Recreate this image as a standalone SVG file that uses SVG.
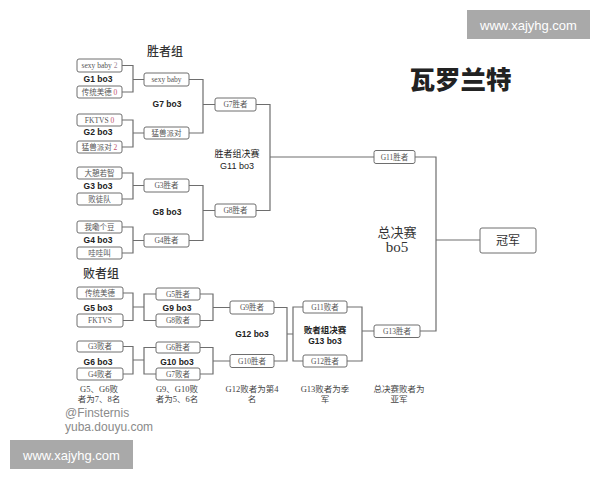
<svg xmlns="http://www.w3.org/2000/svg" width="600" height="480" viewBox="0 0 600 480">
<style>
.box{fill:#fff;stroke:#6e6e6e;stroke-width:1}
.bt{font-family:"Liberation Serif","Noto Sans CJK SC",serif;font-size:7.5px;fill:#555;text-anchor:middle}
.sc{fill:#c0506a}
.lb{font-family:"Liberation Sans","Noto Sans CJK SC",sans-serif;font-size:8.5px;font-weight:bold;fill:#222;text-anchor:middle}
.lr{font-family:"Liberation Sans","Noto Sans CJK SC",sans-serif;font-size:9px;fill:#222;text-anchor:middle}
.note{font-family:"Liberation Serif","Noto Sans CJK SC",serif;font-size:8.5px;fill:#444;text-anchor:middle}
.hd{font-family:"Liberation Serif","Noto Sans CJK SC",serif;font-size:12px;fill:#333;font-weight:500}
.wm{fill:#a9a9a9}
.wmt{font-family:"Liberation Sans",sans-serif;font-size:13px;fill:#fff;text-anchor:middle}
.cr{font-family:"Liberation Sans",sans-serif;font-size:12px;fill:#8a8a8a}
.con{fill:none;stroke:#6e6e6e;stroke-width:1.2}
</style>
<rect width="600" height="480" fill="#fff"/>

<g id="watermark-top"><rect class="wm" x="467" y="10" width="123" height="29"/><text class="wmt" x="528.5" y="29.5">www.xajyhg.com</text></g>
<g id="watermark-bottom"><rect class="wm" x="10" y="440" width="123" height="29"/><text class="wmt" x="71.5" y="459.5">www.xajyhg.com</text></g>
<g id="credit"><text class="cr" x="65" y="417">@Finsternis</text><text class="cr" x="65" y="431">yuba.douyu.com</text></g>

<text id="title" x="460.5" y="89" text-anchor="middle" font-family="Noto Sans CJK SC,sans-serif" font-size="25.5" font-weight="900" fill="#222">瓦罗兰特</text>
<text class="hd" x="165" y="56" text-anchor="middle">胜者组</text>
<text class="hd" x="83" y="278">败者组</text>

<g id="connectors" class="con">
<path d="M122 65.5H133V92H122M133 79.5H144"/>
<path d="M122 120H133V147H122M133 133H144"/>
<path d="M122 173H133V199H122M133 185.5H144"/>
<path d="M122 227H133V253H122M133 240.5H144"/>
<path d="M189 79.5H203V133H189M203 104.5H215"/>
<path d="M189 185.5H203V240.5H189M203 210.5H215"/>
<path d="M256 104.5H270V210.5H256M270 157H374"/>
<path d="M415 157H436V331H420M436 240H480"/>
<path d="M123 293H133V320.5H123M133 307H144M156 294H144V320.5H156"/>
<path d="M123 346.5H133V374H123M133 360H144M156 347.5H144V374H156"/>
<path d="M200 294H213V320.5H200M213 307.5H230"/>
<path d="M200 347.5H213V374H200M213 361H230"/>
<path d="M274 307.5H287V361H274M287 334H293M303 307H293V361H303"/>
<path d="M347 307H362V361H347M362 331H374"/>
</g>

<g id="w1a"><rect class="box" x="77" y="59" width="45" height="13" rx="2"/><text class="bt" x="99.5" y="68.3">sexy baby <tspan fill="#a08898">2</tspan></text></g>
<g id="w1b"><rect class="box" x="77" y="86" width="45" height="12" rx="2"/><text class="bt" x="99.5" y="94.8">传统美德 <tspan class="sc">0</tspan></text></g>
<g id="w2a"><rect class="box" x="77" y="114" width="45" height="12" rx="2"/><text class="bt" x="99.5" y="122.8">FKTVS <tspan class="sc">0</tspan></text></g>
<g id="w2b"><rect class="box" x="77" y="141" width="45" height="12" rx="2"/><text class="bt" x="99.5" y="149.8">猛兽派对 <tspan class="sc">2</tspan></text></g>
<g id="w3a"><rect class="box" x="77" y="167" width="45" height="12" rx="2"/><text class="bt" x="99.5" y="175.8">大憩若智</text></g>
<g id="w3b"><rect class="box" x="77" y="193" width="45" height="12" rx="2"/><text class="bt" x="99.5" y="201.8">败徒队</text></g>
<g id="w4a"><rect class="box" x="77" y="221" width="45" height="12" rx="2"/><text class="bt" x="99.5" y="229.8">我嘞个豆</text></g>
<g id="w4b"><rect class="box" x="77" y="247" width="45" height="12" rx="2"/><text class="bt" x="99.5" y="255.8">哇哇叫</text></g>

<text class="lb" x="98" y="82">G1 bo3</text>
<text class="lb" x="98" y="134.5">G2 bo3</text>
<text class="lb" x="98" y="189">G3 bo3</text>
<text class="lb" x="98" y="243">G4 bo3</text>

<g id="g7a"><rect class="box" x="144" y="73" width="45" height="13" rx="2"/><text class="bt" x="166.5" y="82.2">sexy baby</text></g>
<g id="g7b"><rect class="box" x="144" y="127" width="45" height="12" rx="2"/><text class="bt" x="166.5" y="135.8">猛兽派对</text></g>
<g id="g8a"><rect class="box" x="144" y="179" width="45" height="13" rx="2"/><text class="bt" x="166.5" y="188.2">G3胜者</text></g>
<g id="g8b"><rect class="box" x="144" y="234" width="45" height="13" rx="2"/><text class="bt" x="166.5" y="243.2">G4胜者</text></g>
<text class="lb" x="167" y="107">G7 bo3</text>
<text class="lb" x="167" y="215">G8 bo3</text>

<g id="g7w"><rect class="box" x="215" y="98" width="41" height="13" rx="2"/><text class="bt" x="235.5" y="107.2">G7胜者</text></g>
<g id="g8w"><rect class="box" x="215" y="204" width="41" height="13" rx="2"/><text class="bt" x="235.5" y="213.2">G8胜者</text></g>
<text class="lr" x="237" y="157">胜者组决赛</text>
<text class="lr" x="237" y="168.5">G11 bo3</text>

<g id="g11w"><rect class="box" x="374" y="150.5" width="41" height="13" rx="2"/><text class="bt" x="394.5" y="159.7">G11胜者</text></g>
<text x="397" y="236.5" text-anchor="middle" font-family="Liberation Serif,Noto Sans CJK SC,serif" font-size="13" fill="#333">总决赛</text>
<text x="397" y="252" text-anchor="middle" font-family="Liberation Serif,Noto Sans CJK SC,serif" font-size="15" fill="#333">bo5</text>
<g id="champion"><rect class="box" x="480" y="228" width="56" height="25" rx="2"/><text x="508" y="244.5" text-anchor="middle" font-family="Liberation Serif,Noto Sans CJK SC,serif" font-size="12" fill="#333">冠军</text></g>

<g id="l5a"><rect class="box" x="77" y="287" width="46" height="12" rx="2"/><text class="bt" x="100" y="295.8">传统美德</text></g>
<g id="l5b"><rect class="box" x="77" y="314" width="46" height="13" rx="2"/><text class="bt" x="100" y="323.2">FKTVS</text></g>
<g id="l6a"><rect class="box" x="77" y="341" width="46" height="11" rx="2"/><text class="bt" x="100" y="349.3">G3败者</text></g>
<g id="l6b"><rect class="box" x="77" y="368" width="46" height="12" rx="2"/><text class="bt" x="100" y="376.8">G4败者</text></g>
<text class="lb" x="98" y="311">G5 bo3</text>
<text class="lb" x="98" y="365">G6 bo3</text>

<g id="g9a"><rect class="box" x="156" y="288" width="44" height="12" rx="2"/><text class="bt" x="178" y="296.8">G5胜者</text></g>
<g id="g9b"><rect class="box" x="156" y="314" width="44" height="13" rx="2"/><text class="bt" x="178" y="323.2">G8败者</text></g>
<g id="g10a"><rect class="box" x="156" y="342" width="44" height="11" rx="2"/><text class="bt" x="178" y="350.3">G6胜者</text></g>
<g id="g10b"><rect class="box" x="156" y="368" width="44" height="12" rx="2"/><text class="bt" x="178" y="376.8">G7败者</text></g>
<text class="lb" x="177" y="310.5">G9 bo3</text>
<text class="lb" x="177" y="365">G10 bo3</text>

<g id="g9w"><rect class="box" x="230" y="301" width="44" height="13" rx="2"/><text class="bt" x="252" y="310.2">G9胜者</text></g>
<g id="g10w"><rect class="box" x="230" y="354.5" width="44" height="13" rx="2"/><text class="bt" x="252" y="363.7">G10胜者</text></g>
<text class="lb" x="252" y="337">G12 bo3</text>

<g id="g11l"><rect class="box" x="303" y="301" width="44" height="12" rx="2"/><text class="bt" x="325" y="309.8">G11败者</text></g>
<g id="g12w"><rect class="box" x="303" y="355" width="44" height="12" rx="2"/><text class="bt" x="325" y="363.8">G12胜者</text></g>
<text class="lb" x="325" y="333" font-size="9.5">败者组决赛</text>
<text class="lb" x="325" y="344" font-size="9.5">G13 bo3</text>

<g id="g13w"><rect class="box" x="374" y="325" width="46" height="12.5" rx="2"/><text class="bt" x="397" y="333.9">G13胜者</text></g>

<g id="notes">
<text class="note" x="99" y="392">G5、G6败</text><text class="note" x="99" y="402">者为7、8名</text>
<text class="note" x="177" y="392">G9、G10败</text><text class="note" x="177" y="402">者为5、6名</text>
<text class="note" x="252" y="392">G12败者为第4</text><text class="note" x="252" y="402">名</text>
<text class="note" x="325" y="392">G13败者为季</text><text class="note" x="325" y="402">军</text>
<text class="note" x="399" y="392">总决赛败者为</text><text class="note" x="399" y="402">亚军</text>
</g>
</svg>
